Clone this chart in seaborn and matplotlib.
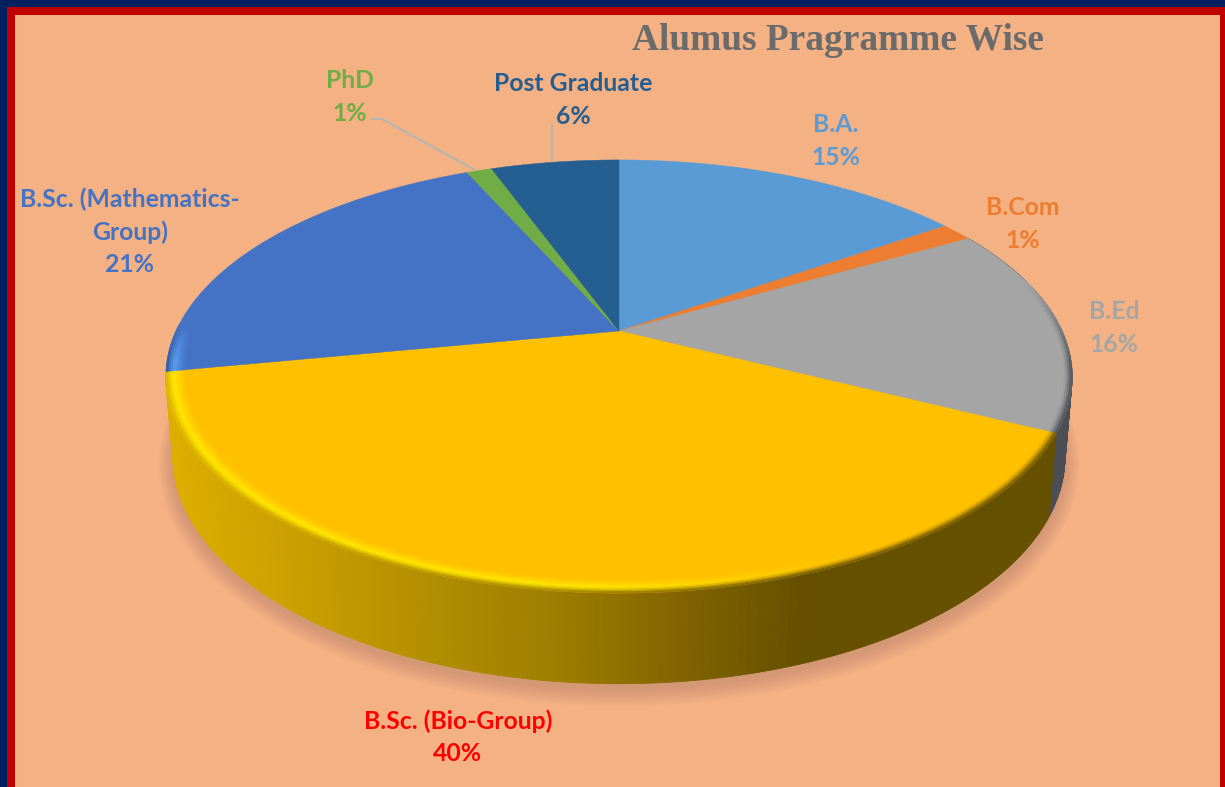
import numpy as np
import matplotlib
matplotlib.use("Agg")
import matplotlib.pyplot as plt
from matplotlib.collections import PolyCollection
from matplotlib.patches import Rectangle
import seaborn as sns

programmes = ["B.A.", "B.Com", "B.Ed", "B.Sc. (Bio-Group)",
              "B.Sc. (Mathematics-\nGroup)", "PhD", "Post Graduate"]
shares = [15.4, 1.4, 15.6, 39.6, 21.3, 1.1, 5.6]
slice_colors = ["#5b9bd5", "#ed7d31", "#a5a5a5", "#ffc000", "#4472c4", "#70ad47", "#255e91"]
label_colors = ["#5b9bd5", "#ed7d31", "#a5a5a5", "#ff0000", "#4472c4", "#70ad47", "#255e91"]
label_x = [836, 1023, 1114, 458, 130, 350, 573]
label_y = [141, 224, 328, 737, 232, 97, 100]
title_text = "Alumus Pragramme Wise"

sns.set_theme(style="white")
plt.rcParams["font.family"] = ["Lato", "DejaVu Sans"]

BG = "#f4b183"
CX, CY = 619, 331
K, H = 0.21, 207
R_TOP = 443
R_BOT, Y_BOT, H_BOT = 436, 409, 217


def project(t, r=1.0, radius=R_TOP, cy=CY, height=H):
    # tilted disc with some perspective, t is degrees clockwise from the top
    a = np.radians(t)
    xx, yy = r * np.sin(a), r * np.cos(a)
    w = 1 + K * yy
    return CX + radius * xx / w, cy - height * yy / w


def project_bottom(t, r=1.0):
    return project(t, r, R_BOT, Y_BOT, H_BOT)


def side_shades(side_colors, x):
    pos = np.clip((x - 172) / (800 - 172), 0, 1)
    idx = (pos * (len(side_colors) - 1)).astype(int)
    return [side_colors[i] for i in idx]


fig = plt.figure(figsize=(12.25, 7.87), dpi=100, facecolor=BG)
ax = fig.add_axes([0, 0, 1, 1])
ax.set_xlim(0, 1225)
ax.set_ylim(787, 0)
ax.axis("off")

# frame
ax.add_patch(Rectangle((0, 0), 1225, 787, fc="#002060", ec="none", zorder=0))
ax.add_patch(Rectangle((7, 7), 1218, 780, fc="#c00000", ec="none", zorder=0))
ax.add_patch(Rectangle((15, 15), 1205, 772, fc=BG, ec="none", zorder=0))

# soft shadow below the disc
tt = np.linspace(0, 360, 361)
for i in range(14, -1, -1):
    sx, sy = project(tt, 1.0, R_BOT + 1.0 * i, Y_BOT + 5, H_BOT + 1.0 * i)
    ax.fill(sx, sy, color="#8a6a50", alpha=0.02, lw=0, zorder=1)

edges = np.concatenate([[0], np.cumsum(shares)]) / sum(shares) * 360

# each slice gets its own gradient for the wall, light to dark going left to right
wall_ramps = {
    2: ["#4b4e55", "#4b4e55"],
    3: sns.blend_palette(["#dcae00", "#c99f00", "#b28e00", "#a07e00", "#836500", "#655000"], 200),
}

# wall, only the two slices in front show one
for i in wall_ramps:
    a = np.arange(edges[i], edges[i + 1], 0.5)
    a = np.append(a, edges[i + 1])
    x1, y1 = project(a)
    x2, y2 = project_bottom(a)
    quads = [[(x1[j], y1[j]), (x1[j + 1], y1[j + 1]), (x2[j + 1], y2[j + 1]), (x2[j], y2[j])]
             for j in range(len(a) - 1)]
    cols = side_shades(wall_ramps[i], (x1[:-1] + x1[1:]) / 2)
    ax.add_collection(PolyCollection(quads, facecolors=cols, edgecolors=cols, linewidths=0.6, zorder=2))

# top face
for i, col in enumerate(sns.color_palette(slice_colors)):
    a = np.linspace(edges[i], edges[i + 1], max(int(shares[i] * 8), 8))
    x, y = project(a)
    ax.fill(np.r_[CX, x], np.r_[CY, y], color=col, lw=0.3, zorder=3)

# bevel along the front rim, fades in and out at its two ends
rings = np.linspace(0.955, 1.0, 12)
wall_ramps[4] = ["#2f5597", "#2f5597"]
for i in [2, 3, 4]:
    a = np.arange(edges[i], edges[i + 1], 0.5)
    a = np.append(a, edges[i + 1])
    a = a[(a > 75) & (a < 272)]
    amid = (a[:-1] + a[1:]) / 2
    fade = np.clip((amid - 75) / 25, 0, 1) * np.clip((272 - amid) / 10, 0, 1)
    base = np.array(matplotlib.colors.to_rgb(slice_colors[i]))
    hi = np.array(matplotlib.colors.to_rgb("#ffe500" if i == 3 else "#c8c8c8" if i == 2 else "#5a9cf0"))
    for n in range(len(rings) - 1):
        x1, y1 = project(a, rings[n])
        x2, y2 = project(a, rings[n + 1])
        f = (n + 0.5) / (len(rings) - 1)
        xm = (x1[:-1] + x1[1:]) / 2
        quads = [[(x1[j], y1[j]), (x1[j + 1], y1[j + 1]), (x2[j + 1], y2[j + 1]), (x2[j], y2[j])]
                 for j in range(len(a) - 1)]
        cols = []
        wall = side_shades(wall_ramps[i], xm)
        for j in range(len(xm)):
            light = np.clip((860 - xm[j]) / 260, 0, 1)
            w_col = np.array(matplotlib.colors.to_rgb(wall[j]))
            # base -> highlight -> wall, highlight fades out on the dark side
            peak = 0.6
            if f < peak:
                c = base + (hi - base) * (f / peak) ** 1.5 * light
            else:
                top = base + (hi - base) * light
                c = top + (w_col - top) * ((f - peak) / (1 - peak)) ** 1.5
            c = base + (c - base) * fade[j]
            cols.append(tuple(np.clip(c, 0, 1)))
        ax.add_collection(PolyCollection(quads, facecolors=cols, edgecolors=cols, linewidths=0.5, zorder=4))

# leader lines
ax.plot([372, 382, 475], [119, 119, 170], color="#a9b6bd", lw=1.2, zorder=5)
ax.plot([552, 552], [124, 161], color="#a9b6bd", lw=1.2, zorder=5)

# labels
for name, share, col, lx, ly in zip(programmes, shares, label_colors, label_x, label_y):
    ax.text(lx, ly, f"{name}\n{round(share)}%", color=col, ha="center", va="center",
            fontsize=17.8, fontweight="bold", linespacing=1.48, zorder=6)

ax.text(838, 41, title_text, color="#6b6b6b", ha="center", va="center",
        fontsize=26.9, fontweight="bold", family="Liberation Serif", zorder=6)

fig.savefig("out.png", dpi=100, facecolor=BG)
